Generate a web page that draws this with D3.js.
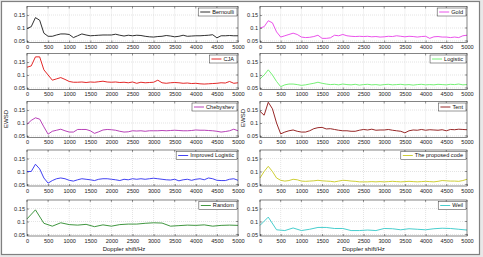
<!DOCTYPE html>
<html><head><meta charset="utf-8">
<script src="https://cdn.jsdelivr.net/npm/d3@7"></script>
<style>body{margin:0;background:#e8e8e8;}svg{display:block;}text{font-family:"Liberation Sans",Arial,sans-serif;}</style>
</head><body><svg id="c" width="483" height="257"></svg>
<script>
const freq100 = d3.range(0, 5001, 100);
const freq200 = d3.range(0, 5001, 200);
const xTicks = [0,500,1000,1500,2000,2500,3000,3500,4000,4500,5000];
const yTicks = [0.05, 0.1, 0.15];
const yTickLabels = ["0.05","0.1","0.15"];
const seriesNames = ["Bernoulli","Gold","CJA","Logistic","Chebyshev","Tent","Improved Logistic","The proposed code","Random","Weil"];
const seriesColors = ["#1a1a1a","#e83ee8","#e01010","#66ee66","#b02cb0","#8b1010","#2c2cf0","#c8c81e","#2a8a2a","#33c8c8"];

const bernoulli = [0.098,0.105,0.14,0.13,0.08,0.068,0.068,0.073,0.077,0.077,0.075,0.063,0.07,0.077,0.073,0.07,0.071,0.072,0.073,0.073,0.073,0.076,0.072,0.069,0.072,0.07,0.072,0.071,0.068,0.066,0.065,0.067,0.068,0.071,0.069,0.066,0.068,0.072,0.068,0.069,0.07,0.07,0.071,0.072,0.074,0.062,0.07,0.07,0.071,0.07,0.07];
const gold = [0.1,0.105,0.128,0.12,0.085,0.065,0.07,0.075,0.08,0.075,0.065,0.063,0.064,0.067,0.072,0.06,0.06,0.062,0.072,0.07,0.075,0.07,0.068,0.067,0.068,0.067,0.068,0.066,0.067,0.065,0.066,0.068,0.067,0.07,0.068,0.066,0.068,0.067,0.065,0.067,0.068,0.06,0.066,0.067,0.065,0.065,0.063,0.065,0.063,0.07,0.072];
const cja = [0.13,0.135,0.17,0.17,0.12,0.1,0.08,0.085,0.09,0.083,0.075,0.072,0.072,0.073,0.071,0.073,0.072,0.074,0.076,0.073,0.072,0.073,0.071,0.072,0.07,0.073,0.068,0.072,0.07,0.071,0.072,0.08,0.07,0.068,0.07,0.071,0.07,0.068,0.069,0.067,0.068,0.066,0.065,0.066,0.067,0.068,0.07,0.069,0.075,0.068,0.07];
const logistic = [0.085,0.1,0.12,0.1,0.075,0.055,0.062,0.065,0.065,0.063,0.06,0.062,0.065,0.068,0.072,0.068,0.065,0.063,0.064,0.062,0.065,0.063,0.062,0.064,0.061,0.063,0.064,0.062,0.063,0.061,0.063,0.064,0.062,0.063,0.064,0.062,0.063,0.061,0.063,0.064,0.062,0.063,0.062,0.064,0.063,0.062,0.064,0.063,0.065,0.062,0.063];
const chebyshev = [0.095,0.11,0.12,0.115,0.085,0.057,0.068,0.072,0.076,0.07,0.065,0.065,0.075,0.075,0.075,0.07,0.06,0.066,0.073,0.075,0.074,0.072,0.068,0.065,0.066,0.07,0.069,0.07,0.068,0.07,0.07,0.07,0.071,0.07,0.071,0.072,0.071,0.07,0.07,0.071,0.073,0.072,0.072,0.071,0.07,0.068,0.065,0.067,0.07,0.076,0.07];
const tent = [0.145,0.13,0.18,0.155,0.1,0.058,0.065,0.07,0.073,0.068,0.065,0.065,0.07,0.078,0.082,0.083,0.077,0.078,0.075,0.072,0.07,0.07,0.068,0.068,0.072,0.075,0.073,0.076,0.072,0.073,0.073,0.075,0.072,0.07,0.068,0.062,0.07,0.073,0.072,0.075,0.072,0.074,0.073,0.072,0.074,0.07,0.075,0.074,0.076,0.075,0.074];
const improvedLogistic = [0.1,0.1,0.128,0.11,0.075,0.055,0.065,0.072,0.075,0.072,0.066,0.063,0.068,0.072,0.07,0.068,0.065,0.07,0.072,0.072,0.07,0.068,0.065,0.07,0.068,0.072,0.07,0.072,0.07,0.072,0.074,0.072,0.07,0.068,0.067,0.07,0.064,0.068,0.07,0.066,0.07,0.072,0.068,0.075,0.072,0.066,0.065,0.065,0.07,0.072,0.066];
const proposed = [0.075,0.1,0.12,0.1,0.075,0.066,0.063,0.065,0.07,0.068,0.063,0.062,0.063,0.064,0.066,0.064,0.063,0.062,0.06,0.063,0.066,0.065,0.063,0.062,0.06,0.06,0.06,0.061,0.06,0.061,0.06,0.061,0.062,0.061,0.06,0.061,0.062,0.061,0.06,0.061,0.062,0.061,0.06,0.062,0.065,0.064,0.063,0.063,0.062,0.065,0.07];
const random = [0.11,0.145,0.093,0.082,0.095,0.088,0.086,0.089,0.08,0.087,0.082,0.088,0.09,0.09,0.093,0.095,0.094,0.082,0.084,0.086,0.085,0.087,0.082,0.085,0.086,0.085];
const weil = [0.085,0.117,0.068,0.065,0.075,0.065,0.07,0.077,0.077,0.073,0.073,0.065,0.065,0.067,0.065,0.073,0.072,0.068,0.072,0.07,0.068,0.072,0.074,0.073,0.07,0.067];

const seriesValues = [bernoulli,gold,cja,logistic,chebyshev,tent,improvedLogistic,proposed,random,weil];
const seriesFreqs = [freq100,freq100,freq100,freq100,freq100,freq100,freq100,freq100,freq200,freq200];

const svg = d3.select("#c");
svg.append("rect").attr("x",1.5).attr("y",1.5).attr("width",478).attr("height",253)
  .attr("fill","#fff").attr("stroke","#808080").attr("stroke-width",1.2);

const colX = [[27,238],[260,467]];
const rowTops = [6.5,53.5,101.5,150,200];
const plotH = 36;
const yDomain = [0.044, 0.183];

seriesNames.forEach((name, i) => {
  const col = i % 2, row = Math.floor(i / 2);
  const [x0, x1] = colX[col];
  const y0 = rowTops[row], y1 = y0 + plotH;
  const x = d3.scaleLinear().domain([0,5000]).range([x0,x1]);
  const y = d3.scaleLinear().domain(yDomain).range([y1,y0]);
  const g = svg.append("g");
  g.selectAll(".gx").data(xTicks.slice(1,-1)).join("line")
    .attr("x1",d=>x(d)).attr("x2",d=>x(d)).attr("y1",y0).attr("y2",y1)
    .attr("stroke","#c8c8c8").attr("stroke-width",0.5).attr("stroke-dasharray","1,1");
  g.selectAll(".gy").data(yTicks).join("line")
    .attr("x1",x0).attr("x2",x1).attr("y1",d=>y(d)).attr("y2",d=>y(d))
    .attr("stroke","#c8c8c8").attr("stroke-width",0.5).attr("stroke-dasharray","1,1");
  const xa = g.append("g").attr("transform",`translate(0,${y1})`)
    .call(d3.axisBottom(x).tickValues(xTicks).tickSizeInner(-2).tickSizeOuter(0).tickPadding(3).tickFormat(d3.format("d")));
  const ya = g.append("g").attr("transform",`translate(${x0},0)`)
    .call(d3.axisLeft(y).tickValues(yTicks).tickSizeInner(-2).tickSizeOuter(0).tickPadding(2).tickFormat((d,k)=>yTickLabels[k]));
  [xa,ya].forEach(a=>{
    a.select(".domain").remove();
    a.selectAll("line").attr("stroke","#333").attr("stroke-width",0.5);
    a.selectAll("text").attr("font-size",5.6).attr("fill","#222");
  });
  g.selectAll(".rt").data(yTicks).join("line").attr("x1",x1).attr("x2",x1-2)
    .attr("y1",d=>y(d)).attr("y2",d=>y(d)).attr("stroke","#333").attr("stroke-width",0.5);
  g.selectAll(".tt").data(xTicks).join("line").attr("x1",d=>x(d)).attr("x2",d=>x(d))
    .attr("y1",y0).attr("y2",y0+2).attr("stroke","#333").attr("stroke-width",0.5);
  const freqs = seriesFreqs[i];
  const vals = seriesValues[i];
  g.append("path").datum(vals.map((v,k)=>[freqs[k],v]))
    .attr("fill","none").attr("stroke",seriesColors[i]).attr("stroke-width",0.9)
    .attr("d", d3.line().x(d=>x(d[0])).y(d=>y(d[1])));
  g.append("rect").attr("x",x0).attr("y",y0).attr("width",x1-x0).attr("height",plotH)
    .attr("fill","none").attr("stroke","#333").attr("stroke-width",0.6);
  const lg = g.append("g");
  const txt = lg.append("text").attr("font-size",5.6).attr("fill","#111").text(name);
  const tw = txt.node().getComputedTextLength();
  const bw = tw + 17, bh = 8;
  const bx = x1 - 1 - bw, by = y0 + 1.5;
  lg.insert("rect","text").attr("x",bx).attr("y",by).attr("width",bw).attr("height",bh)
    .attr("fill","#fff").attr("stroke","#333").attr("stroke-width",0.5);
  lg.append("line").attr("x1",bx+2).attr("x2",bx+12).attr("y1",by+bh/2).attr("y2",by+bh/2)
    .attr("stroke",seriesColors[i]).attr("stroke-width",0.9);
  txt.attr("x",bx+14).attr("y",by+bh/2).attr("dy","0.35em");
});

svg.append("text").attr("transform","translate(8,119) rotate(-90)").attr("text-anchor","middle")
  .attr("font-size",6).attr("fill","#111").text("EWSD");
svg.append("text").attr("transform","translate(245,118) rotate(-90)").attr("text-anchor","middle")
  .attr("font-size",6).attr("fill","#111").text("EWSD");
svg.append("text").attr("x",124).attr("y",251).attr("text-anchor","middle")
  .attr("font-size",6).attr("fill","#111").text("Doppler shift/Hz");
svg.append("text").attr("x",363.5).attr("y",251).attr("text-anchor","middle")
  .attr("font-size",6).attr("fill","#111").text("Doppler shift/Hz");
</script></body></html>
